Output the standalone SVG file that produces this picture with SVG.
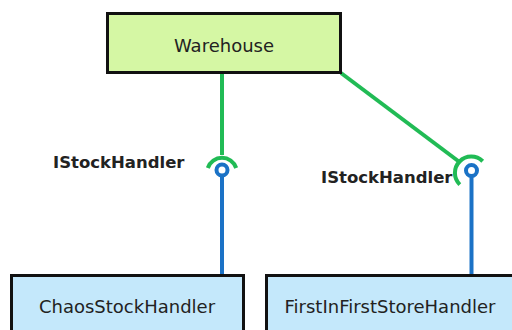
<svg xmlns="http://www.w3.org/2000/svg" width="512" height="330" viewBox="0 0 512 330">
<style>
  .box{stroke:#111;stroke-width:3}
  .green{fill:#d5f7a4}
  .blue{fill:#c4e8fb}
  .t{font-family:"DejaVu Sans",Verdana,sans-serif;font-size:18px;fill:#222}
  .lbl{font-family:"DejaVu Sans",Verdana,sans-serif;font-size:16.5px;fill:#222;font-weight:bold}
  .gl{stroke:#21bb55;stroke-width:4;fill:none}
  .bl{stroke:#1b72c6;stroke-width:4;fill:none}
</style>
<rect width="512" height="330" fill="#fff"/>
<g id="connectors">
  <line class="gl" x1="222" y1="74" x2="222" y2="155"/>
  <path class="gl" d="M207.8 168 A15 15 0 0 1 236.2 168"/>
  <line class="bl" x1="222" y1="177" x2="222" y2="275"/>
  <circle class="bl" cx="222" cy="170" r="5.5" stroke-width="3.5"/>
  <line class="gl" x1="341" y1="73" x2="459.5" y2="162"/>
  <path class="gl" d="M459.8 184.6 A15 15 0 0 1 482.7 161.3"/>
  <line class="bl" x1="471.5" y1="177" x2="471.5" y2="275"/>
  <circle class="bl" cx="471.5" cy="170.5" r="5.5" stroke-width="3.5"/>
</g>
<g id="Warehouse">
  <rect class="box green" x="107.5" y="13.5" width="233" height="59"/>
  <text class="t" x="224" y="52" text-anchor="middle">Warehouse</text>
</g>
<g id="ChaosStockHandler">
  <rect class="box blue" x="11.5" y="275.5" width="232" height="70"/>
  <text class="t" x="127" y="313" text-anchor="middle">ChaosStockHandler</text>
</g>
<g id="FirstInFirstStoreHandler">
  <rect class="box blue" x="266.5" y="275.5" width="260" height="70"/>
  <text class="t" x="390" y="313" text-anchor="middle">FirstInFirstStoreHandler</text>
</g>
<g id="labels">
  <text class="lbl" x="53" y="168">IStockHandler</text>
  <text class="lbl" x="321" y="183">IStockHandler</text>
</g>
</svg>
